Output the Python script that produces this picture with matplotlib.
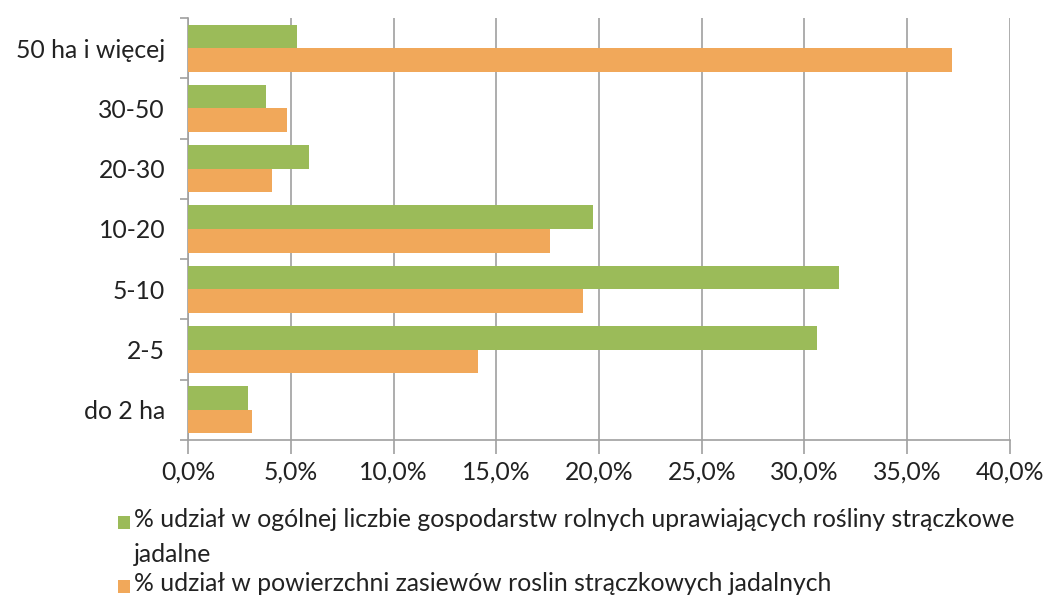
import matplotlib
matplotlib.use("Agg")
import matplotlib.pyplot as plt
import numpy as np
from matplotlib.patches import Rectangle

categories = ["do 2 ha", "2-5", "5-10", "10-20", "20-30", "30-50", "50 ha i więcej"]
share_farms = [2.9, 30.6, 31.7, 19.7, 5.9, 3.8, 5.3]
share_area = [3.1, 14.1, 19.2, 17.6, 4.1, 4.8, 37.2]
series_names = [
    "% udział w ogólnej liczbie gospodarstw rolnych uprawiających rośliny strączkowe\njadalne",
    "% udział w powierzchni zasiewów roslin strączkowych jadalnych",
]
xticks = [0, 5, 10, 15, 20, 25, 30, 35, 40]

green = "#9BBB59"
orange = "#F1A85A"
plt.rcParams['font.family'] = ['Lato', 'DejaVu Sans']
FS = 17.8

fig = plt.figure(figsize=(10.47, 5.96), dpi=100)
ax = fig.add_axes([188/1047, 1-440/596, (1010-188)/1047, (440-18)/596])

y = np.arange(len(categories))
h = 0.39
ax.barh(y + h/2, share_farms, height=h, color=green, zorder=3)
ax.barh(y - h/2, share_area, height=h, color=orange, zorder=3)

ax.set_xlim(0, 40)
ax.set_ylim(-0.5, len(categories) - 0.5)
ax.set_xticks(xticks)
ax.set_xticklabels([f"{v:.1f}%".replace(".", ",") for v in xticks], fontsize=FS, color="#222222")
ax.tick_params(axis='x', length=10, width=1.2, color="#A0A0A0", pad=5)
ax.grid(axis='x', color="#A0A0A0", linewidth=1.2, zorder=0)

ax.set_yticks(np.arange(-0.5, len(categories)), minor=False)
ax.set_yticklabels([])
ax.tick_params(axis='y', which='major', length=6, width=1.2, color="#A0A0A0")
ax.set_yticks(y, minor=True)
ax.set_yticklabels(categories, minor=True, fontsize=FS, color="#222222")
ax.tick_params(axis='y', which='minor', length=0, pad=16.5)

for s in ['top', 'right']:
    ax.spines[s].set_visible(False)
for s in ['left', 'bottom']:
    ax.spines[s].set_color("#A0A0A0")
    ax.spines[s].set_linewidth(1.2)

# legend drawn manually
W, H = 1047, 596
def fx(px):
    return px / W
def fy(py):
    return 1 - py / H
for i, (name, col, ytop) in enumerate([(series_names[0], green, 522), (series_names[1], orange, 586)]):
    fig.patches.append(Rectangle((fx(118), fy(ytop + 7)), 12/W, 13/H, transform=fig.transFigure,
                                 facecolor=col, edgecolor='none'))
    fig.text(fx(134), fy(ytop - 14), name, fontsize=FS, color="#222222", va='top', ha='left',
             linespacing=1.65)

fig.savefig("out.png", dpi=100)
